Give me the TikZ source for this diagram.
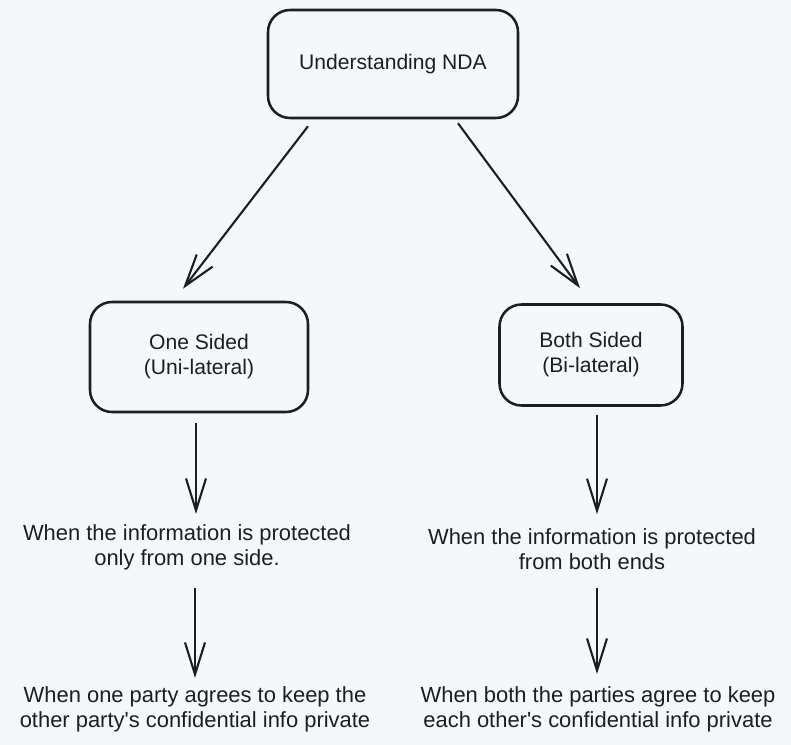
\documentclass[tikz,border=0pt]{standalone}
\usepackage{fontspec}
\setmainfont{Liberation Sans}
\usepackage{xcolor}
\usetikzlibrary{arrows.meta}
\definecolor{paper}{HTML}{F4F8FB}
\definecolor{ink}{HTML}{1E1E1E}
\tikzset{
  box/.style={draw=ink, line width=1.8pt, rounded corners=0.55cm, text=ink, align=center, font=\fontsize{15}{17.8}\selectfont},
  note/.style={text=ink, align=center, inner sep=0pt, font=\fontsize{15.6}{17.8}\selectfont},
  arr/.style={draw=ink, line width=1.5pt, -{Straight Barb[length=0.8cm, width=0.5cm, line width=1.5pt]}}
}

\begin{document}
\begin{tikzpicture}
      \fill[paper] (0,0) rectangle (19.775,-18.625);
      \useasboundingbox (0,0) rectangle (19.775,-18.625);

      \node[box, minimum width=6.25cm, minimum height=2.7cm] (nda) at (9.825,-1.6) {Understanding NDA};
      \node[box, minimum width=5.45cm, minimum height=2.75cm] (uni) at (4.975,-8.925) {One Sided\\(Uni-lateral)};
      \node[box, minimum width=4.575cm, minimum height=2.525cm] (bi) at (14.775,-8.875) {Both Sided\\(Bi-lateral)};

      \node[note] (uniwhen) at (4.675,-13.675) {When the information is protected\\only from one side.};
      \node[note] (biwhen) at (14.8,-13.725) {When the information is protected\\from both ends};
      \node[note] (uniparty) at (4.875,-17.725) {When one party agrees to keep the\\other party\textquotesingle s confidential info private};
      \node[note] (biparty) at (14.95,-17.725) {When both the parties agree to keep\\each other\textquotesingle s confidential info private};

      \draw[arr] ([xshift=-2.125cm, yshift=-0.175cm]nda.south) -- ([xshift=-0.4cm, yshift=0.3cm]uni.north);
      \draw[arr] ([xshift=1.625cm, yshift=-0.1cm]nda.south) -- ([xshift=-0.275cm, yshift=0.375cm]bi.north);

      \draw[arr, shorten <=0.25cm, shorten >=0.25cm] ([xshift=-0.075cm]uni.south) -- ([xshift=-0.075cm]uni.south |- uniwhen.north);
      \draw[arr, shorten <=0.2cm, shorten >=0.35cm] ([xshift=0.15cm]bi.south) -- ([xshift=0.15cm]bi.south |- biwhen.north);
      \draw[arr, shorten <=0.45cm, shorten >=0.2cm] ([xshift=0.2cm]uniwhen.south) -- ([xshift=0.2cm]uniwhen.south |- uniparty.north);
      \draw[arr, shorten <=0.45cm, shorten >=0.3cm] ([xshift=0.125cm]biwhen.south) -- ([xshift=0.125cm]biwhen.south |- biparty.north);
\end{tikzpicture}
\end{document}
